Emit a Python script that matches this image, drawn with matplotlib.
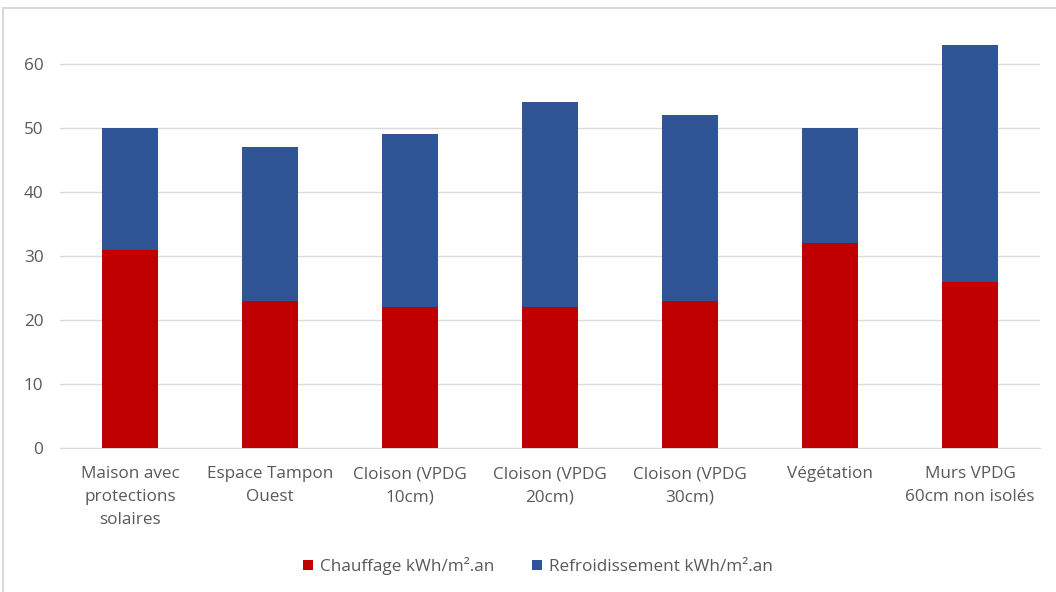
import numpy as np
import matplotlib.pyplot as plt
from matplotlib.patches import Rectangle

categories = ["Maison avec\nprotections\nsolaires", "Espace Tampon\nOuest", "Cloison (VPDG\n10cm)",
              "Cloison (VPDG\n20cm)", "Cloison (VPDG\n30cm)", "Végétation", "Murs VPDG\n60cm non isolés"]
chauffage = [31, 23, 22, 22, 23, 32, 26]
refroidissement = [19, 24, 27, 32, 29, 18, 37]
yticks = [0, 10, 20, 30, 40, 50, 60]

plt.rcParams['font.family'] = ['Open Sans', 'DejaVu Sans']
fs = 12.3

W, H = 1056, 592
fig = plt.figure(figsize=(W / 100, H / 100), dpi=100)
ax = fig.add_axes([60 / W, 1 - 448 / H, 980 / W, (448 - 25.6) / H])

x = np.arange(len(categories))
ax.bar(x, chauffage, width=0.4, color='#C00000', label='Chauffage kWh/m².an', zorder=3)
ax.bar(x, refroidissement, width=0.4, bottom=chauffage, color='#2F5597',
       label='Refroidissement kWh/m².an', zorder=3)

ax.set_xlim(-0.5, len(categories) - 0.5)
ax.set_ylim(0, 66)
ax.set_yticks(yticks)
ax.yaxis.grid(True, color='#D9D9D9', linewidth=1, zorder=0)
ax.set_xticks(x)
ax.set_xticklabels(categories, fontsize=fs, color='#595959', linespacing=1.6)
ax.tick_params(axis='y', labelsize=fs, labelcolor='#595959', length=0, pad=12)
ax.tick_params(axis='x', length=0, pad=13)
for s in ['top', 'right', 'left']:
    ax.spines[s].set_visible(False)
ax.spines['bottom'].set_color('#D9D9D9')

leg = fig.legend(loc='center', bbox_to_anchor=(538 / W, 1 - 566 / H), ncol=2, frameon=False,
                 fontsize=fs, handlelength=0.6, handleheight=0.6, columnspacing=2.2,
                 handletextpad=0.4)
for t in leg.get_texts():
    t.set_color('#595959')

fig.patches.append(Rectangle((3 / W, -0.1), 1.2, 1 - 8 / H + 0.1, transform=fig.transFigure,
                             fill=False, edgecolor='#D9D9D9', linewidth=1.5))

fig.savefig('out.png', dpi=100)
